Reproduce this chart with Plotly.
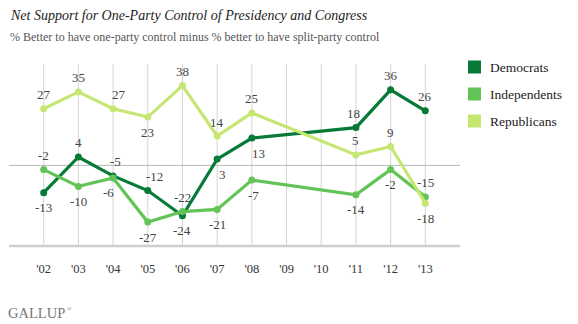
import plotly.graph_objects as go

years = [2002, 2003, 2004, 2005, 2006, 2007, 2008, 2011, 2012, 2013]
tick_years = list(range(2002, 2014))
tick_labels = ["'02", "'03", "'04", "'05", "'06", "'07", "'08", "'09", "'10", "'11", "'12", "'13"]

series_names = ["Democrats", "Independents", "Republicans"]
democrats = [-13, 4, -5, -12, -24, 3, 13, 18, 36, 26]
independents = [-2, -10, -6, -27, -22, -21, -7, -14, -2, -15]
republicans = [27, 35, 27, 23, 38, 14, 25, 5, 9, -18]

colors = ["#087a38", "#62c456", "#c6e672"]
SERIF = "Liberation Serif"

# label placement: 'a' above, 'b' below, optional horizontal shift
dem_pos = [("b", 0), ("a", 0), ("a", 2), ("a", 7), ("b", 0), ("b", 5), ("b", 7), ("a", -2), ("a", 0), ("a", 0)]
ind_pos = [("a", 0), ("b", 0), ("b", -5), ("b", 0), ("a", 0), ("b", 0), ("b", 2), ("b", 0), ("b", 0), ("a", 0)]
rep_pos = [("a", 0), ("a", 0), ("a", 6), ("b", 0), ("a", 0), ("a", 0), ("a", 0), ("a", 0), ("a", 0), ("b", 0)]

fig = go.Figure()

for yr in tick_years:
    fig.add_shape(type="line", xref="x", yref="paper", x0=yr, x1=yr, y0=0, y1=1,
                  line=dict(color="#d4d4d4", width=1), layer="below")
fig.add_shape(type="line", xref="paper", yref="y", x0=0, x1=1, y0=0, y1=0,
              line=dict(color="#b8b8b8", width=1), layer="below")
fig.add_shape(type="line", xref="paper", yref="paper", x0=0, x1=1, y0=0, y1=0,
              line=dict(color="#cfcfcf", width=2.5), layer="below")

all_series = [democrats, independents, republicans]
all_pos = [dem_pos, ind_pos, rep_pos]
for name, vals, col in zip(series_names, all_series, colors):
    fig.add_trace(go.Scatter(x=years, y=vals, mode="lines+markers", name=name,
                             line=dict(color=col, width=3.2),
                             marker=dict(color=col, size=7), showlegend=False))

label_font = dict(family=SERIF, size=13, color="#444")
for vals, pos in zip(all_series, all_pos):
    for yr, v, (p, dx) in zip(years, vals, pos):
        fig.add_annotation(x=yr, y=v, text=str(v), showarrow=False, font=label_font,
                           xshift=dx, yshift=(14 if p == "a" else -15))

PW = 578 - 9 - 118
PH = 246 - 64
def px(x):
    return (x - 9) / PW
def py(y):
    return (246 - y) / PH

for i, (name, col) in enumerate(zip(series_names, colors)):
    yc = 67 + i * 27
    fig.add_shape(type="rect", xref="paper", yref="paper",
                  x0=px(468), x1=px(481), y0=py(yc + 6.5), y1=py(yc - 6.5),
                  line=dict(width=0), fillcolor=col)
    fig.add_annotation(xref="paper", yref="paper", x=px(488), y=py(yc), text=name,
                       showarrow=False, xanchor="left", yanchor="middle",
                       font=dict(family=SERIF, size=13.5, color="#222"))

fig.add_annotation(xref="paper", yref="paper", x=px(8), y=py(15),
                   text="<i>Net Support for One-Party Control of Presidency and Congress</i>",
                   showarrow=False, xanchor="left", yanchor="middle",
                   font=dict(family=SERIF, size=14, color="#222"))
fig.add_annotation(xref="paper", yref="paper", x=px(8), y=py(37),
                   text="% Better to have one-party control minus % better to have split-party control",
                   showarrow=False, xanchor="left", yanchor="middle",
                   font=dict(family=SERIF, size=12, color="#555"))
fig.add_annotation(xref="paper", yref="paper", x=px(6), y=py(313),
                   text="GALLUP", showarrow=False, xanchor="left", yanchor="middle",
                   font=dict(family=SERIF, size=14.5, color="#777"))
fig.add_annotation(xref="paper", yref="paper", x=px(65), y=py(309),
                   text="®", showarrow=False, xanchor="left", yanchor="middle",
                   font=dict(family=SERIF, size=6, color="#777"))

fig.update_layout(
    width=578, height=324,
    margin=dict(l=9, r=118, t=64, b=78),
    paper_bgcolor="white", plot_bgcolor="white",
    xaxis=dict(range=[2001, 2014], tickvals=tick_years, ticktext=tick_labels,
               showgrid=False, zeroline=False, showline=False,
               ticks="outside", ticklen=11, tickcolor="rgba(0,0,0,0)",
               tickfont=dict(family=SERIF, size=12.5, color="#333")),
    yaxis=dict(range=[-38.4, 48.3], visible=False),
)

fig.write_html("out.html")
